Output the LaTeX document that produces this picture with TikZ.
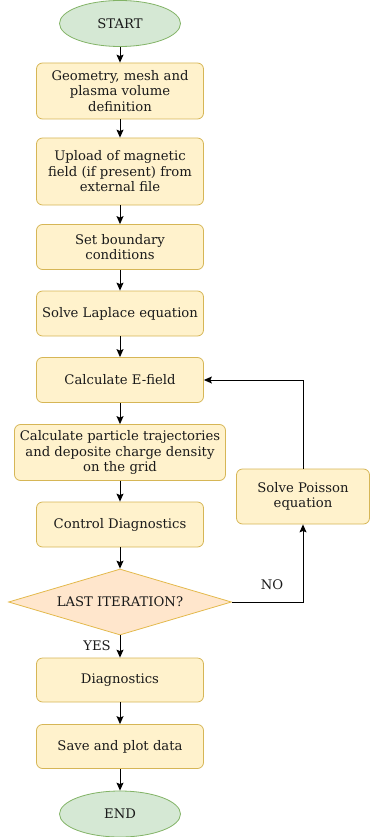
\documentclass[tikz,border=0pt]{standalone}
\usepackage{fontspec}
\setmainfont{DejaVu Serif}
\usetikzlibrary{shapes.geometric,arrows.meta}
\definecolor{yfill}{HTML}{FFF2CC}
\definecolor{ydraw}{HTML}{D6B656}
\definecolor{gfill}{HTML}{D5E8D4}
\definecolor{gdraw}{HTML}{82B366}
\definecolor{ofill}{HTML}{FFE6CC}
\definecolor{odraw}{HTML}{D79B00}
\definecolor{txt}{HTML}{1A1A1A}
\begin{document}
\begin{tikzpicture}[x=1pt,y=-1pt,
  every node/.style={font=\fontsize{13.2}{15.5}\selectfont, text=txt},
  proc/.style={draw=ydraw, fill=yfill, rounded corners=6pt, line width=0.8pt, align=center, inner sep=0pt},
  term/.style={ellipse, draw=gdraw, fill=gfill, line width=0.8pt, inner sep=0pt},
  dec/.style={diamond, draw=odraw!70, fill=ofill, line width=0.8pt, inner sep=0pt, aspect=3.4},
  arr/.style={-{Stealth[length=8pt,width=7pt,inset=1.5pt]}, line width=0.9pt, black}]
\useasboundingbox (0,0) rectangle (370,837);
\node[term, minimum width=121pt, minimum height=46pt] (start) at (120,23.5) {START};
\node[proc, minimum width=167pt, minimum height=56pt] (b1) at (120,91) {Geometry, mesh and\\plasma volume\\definition};
\node[proc, minimum width=167pt, minimum height=67pt] (b2) at (120,171.5) {Upload of magnetic\\field (if present) from\\external file};
\node[proc, minimum width=167pt, minimum height=45pt] (b3) at (120,247) {Set boundary\\conditions};
\node[proc, minimum width=167pt, minimum height=45pt] (b4) at (120,313.5) {Solve Laplace equation};
\node[proc, minimum width=167pt, minimum height=45pt] (b5) at (120,380) {Calculate E-field};
\node[proc, minimum width=211pt, minimum height=56pt] (b6) at (120,452.5) {Calculate particle trajectories\\and deposite charge density\\on the grid};
\node[proc, minimum width=167pt, minimum height=45pt] (b7) at (120,524.5) {Control Diagnostics};
\node[dec, minimum width=223pt, minimum height=66pt] (d) at (120,602) {LAST ITERATION?};
\node[proc, minimum width=133pt, minimum height=55pt] (p) at (303,496.5) {Solve Poisson\\equation};
\node[proc, minimum width=167pt, minimum height=44pt] (b8) at (120,680) {Diagnostics};
\node[proc, minimum width=167pt, minimum height=44pt] (b9) at (120,746.5) {Save and plot data};
\node[term, minimum width=121pt, minimum height=46pt] (end) at (120,814) {END};
\node (no) at (272,585) {NO};
\node (yes) at (97,646) {YES};
\draw[arr] (start) -- (b1);
\draw[arr] (b1) -- (b2);
\draw[arr] (b2) -- (b3);
\draw[arr] (b3) -- (b4);
\draw[arr] (b4) -- (b5);
\draw[arr] (b5) -- (b6);
\draw[arr] (b6) -- (b7);
\draw[arr] (b7) -- (d);
\draw[arr] (d) -- (b8);
\draw[arr] (b8) -- (b9);
\draw[arr] (b9) -- (end);
\draw[arr] (d.east) -| (p.south);
\draw[arr] (p.north) |- (b5.east);
\end{tikzpicture}
\end{document}
